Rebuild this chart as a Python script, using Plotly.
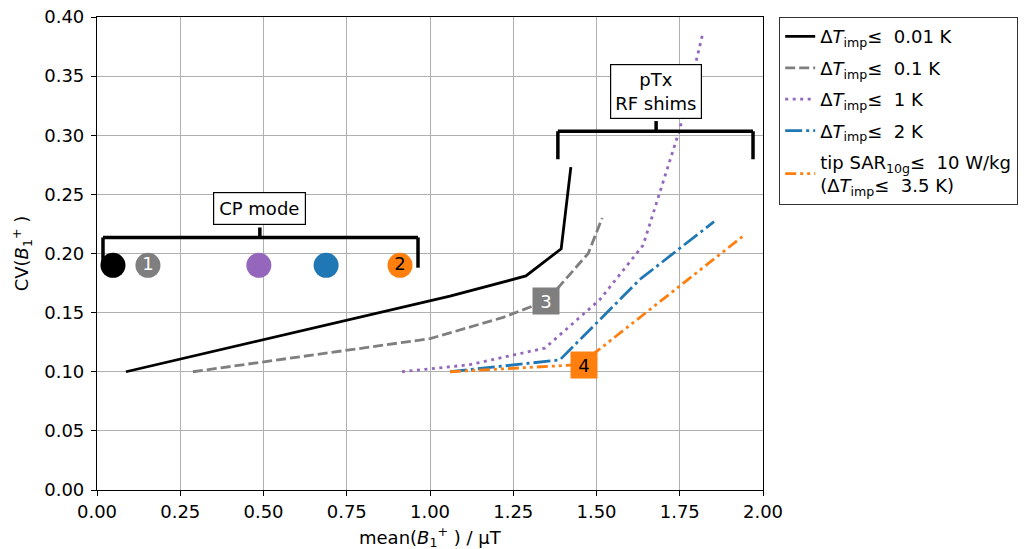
import plotly.graph_objects as go

# ---- data ----
x_001 = [0.087, 1.06, 1.288, 1.394, 1.423]
y_001 = [0.100, 0.164, 0.181, 0.204, 0.273]

x_01 = [0.288, 1.00, 1.22, 1.35, 1.475, 1.517]
y_01 = [0.100, 0.128, 0.146, 0.160, 0.200, 0.230]

x_1 = [0.916, 1.12, 1.345, 1.51, 1.64, 1.75, 1.82]
y_1 = [0.100, 0.106, 0.120, 0.161, 0.207, 0.305, 0.387]

x_2 = [1.06, 1.39, 1.63, 1.853]
y_2 = [0.100, 0.110, 0.178, 0.227]

x_sar = [1.06, 1.45, 1.946]
y_sar = [0.100, 0.106, 0.216]

cp_x = [0.048, 0.153, 0.486, 0.688, 0.91]
cp_y = [0.19, 0.19, 0.19, 0.19, 0.19]
cp_text = ["", "1", "", "", "2"]

names = [
    "Δ<i>T</i><sub>imp</sub>≤  0.01 K",
    "Δ<i>T</i><sub>imp</sub>≤  0.1 K",
    "Δ<i>T</i><sub>imp</sub>≤  1 K",
    "Δ<i>T</i><sub>imp</sub>≤  2 K",
    "tip SAR<sub>10g</sub>≤  10 W/kg<br>(Δ<i>T</i><sub>imp</sub>≤  3.5 K)",
]
colors = ["#000000", "#7f7f7f", "#9467bd", "#1f77b4", "#ff7f0e"]
dashes = ["solid", "10px,4px", "3px,4.5px", "17px,4px,3px,4px", "11px,4px,3px,4px,3px,4px"]

x_ticks = [0, 0.25, 0.5, 0.75, 1.0, 1.25, 1.5, 1.75, 2.0]
x_ticktext = ["0.00", "0.25", "0.50", "0.75", "1.00", "1.25", "1.50", "1.75", "2.00"]
y_ticks = [0, 0.05, 0.1, 0.15, 0.2, 0.25, 0.3, 0.35, 0.4]
y_ticktext = ["0.00", "0.05", "0.10", "0.15", "0.20", "0.25", "0.30", "0.35", "0.40"]

# brackets / labels
cp_bracket = dict(x0=0.018, x1=0.964, y=0.2136, yl=0.188, yr=0.188, xc=0.489, ytop=0.222)
ptx_bracket = dict(x0=1.384, x1=1.97, y=0.3034, yl=0.2797, yr=0.2797, xc=1.679, ytop=0.312)
cp_label_pos = (0.489, 0.2377)
ptx_label_pos = (1.679, 0.3369)
label3 = (1.348, 0.160)
label4 = (1.461, 0.106)

FONT = "DejaVu Sans"
FS = 18

fig = go.Figure()
series = [(x_001, y_001), (x_01, y_01), (x_1, y_1), (x_2, y_2), (x_sar, y_sar)]
for i, ((xs, ys), n, c, d) in enumerate(zip(series, names, colors, dashes)):
    fig.add_trace(go.Scatter(x=xs, y=ys, mode="lines", name=n, legendgroup=f"g{i}",
                             line=dict(color=c, width=2.8, dash=d)))

fig.add_trace(go.Scatter(x=cp_x, y=cp_y, mode="markers+text", showlegend=False,
                         marker=dict(size=25, color=colors, line=dict(width=0)),
                         text=cp_text, textposition="middle center",
                         textfont=dict(family=FONT, size=18, color=["white", "white", "white", "white", "black"])))

shapes = []
for b in (cp_bracket, ptx_bracket):
    lw = dict(color="black", width=3.5)
    shapes.append(dict(type="line", x0=b["x0"], x1=b["x1"], y0=b["y"], y1=b["y"], line=lw))
    shapes.append(dict(type="line", x0=b["x0"], x1=b["x0"], y0=b["y"], y1=b["yl"], line=lw))
    shapes.append(dict(type="line", x0=b["x1"], x1=b["x1"], y0=b["y"], y1=b["yr"], line=lw))
    shapes.append(dict(type="line", x0=b["xc"], x1=b["xc"], y0=b["y"], y1=b["ytop"], line=lw))
fig.update_layout(shapes=shapes)

fig.add_annotation(x=cp_label_pos[0], y=cp_label_pos[1], text="CP mode", showarrow=False,
                   font=dict(family=FONT, size=FS, color="black"),
                   bgcolor="white", bordercolor="black", borderwidth=1.2, borderpad=5)
fig.add_annotation(x=ptx_label_pos[0], y=ptx_label_pos[1], text="pTx<br>RF shims", showarrow=False,
                   font=dict(family=FONT, size=FS, color="black"),
                   bgcolor="white", bordercolor="black", borderwidth=1.2, borderpad=4)
fig.add_annotation(x=label3[0], y=label3[1], text="3", showarrow=False,
                   font=dict(family=FONT, size=18, color="white"),
                   bgcolor="#7f7f7f", borderpad=2, width=22, height=22)
fig.add_annotation(x=label4[0], y=label4[1], text="4", showarrow=False,
                   font=dict(family=FONT, size=18, color="black"),
                   bgcolor="#ff7f0e", borderpad=2, width=22, height=22)

# x-axis title as annotation (placed precisely below tick labels)
fig.add_annotation(xref="paper", yref="paper", x=0.5, y=-0.10, xanchor="center", yanchor="middle",
                   text="mean(<i>B</i><sub>1</sub><sup>+</sup> ) / µT", showarrow=False,
                   font=dict(family=FONT, size=FS, color="black"))

axis_common = dict(showgrid=True, gridcolor="#b0b0b0", gridwidth=1,
                   showline=True, linecolor="black", linewidth=1.2, mirror=True,
                   ticks="outside", ticklen=5, tickcolor="black", tickwidth=1.2,
                   zeroline=False, automargin=False, ticklabeloverflow="allow",
                   tickfont=dict(family=FONT, size=FS, color="black"))

fig.update_xaxes(range=[0, 2], tickvals=x_ticks, ticktext=x_ticktext,
                 ticklabelstandoff=0, **axis_common)
fig.update_yaxes(range=[0, 0.4], tickvals=y_ticks, ticktext=y_ticktext,
                 ticklabelstandoff=3,
                 title=dict(text="CV(<i>B</i><sub>1</sub><sup>+</sup> )",
                            font=dict(family=FONT, size=FS, color="black"), standoff=10),
                 **axis_common)

fig.update_layout(
    width=1016, height=541,
    margin=dict(l=89, r=261, t=9, b=59, autoexpand=False),
    plot_bgcolor="white", paper_bgcolor="white",
    font=dict(family=FONT, size=FS, color="black"),
    legend=dict(x=1.024, y=1.0, xanchor="left", yanchor="top",
                bordercolor="#333333", borderwidth=1.2, bgcolor="white",
                font=dict(family=FONT, size=FS, color="black"),
                itemwidth=30, tracegroupgap=5),
)

fig.write_html("out.html")
